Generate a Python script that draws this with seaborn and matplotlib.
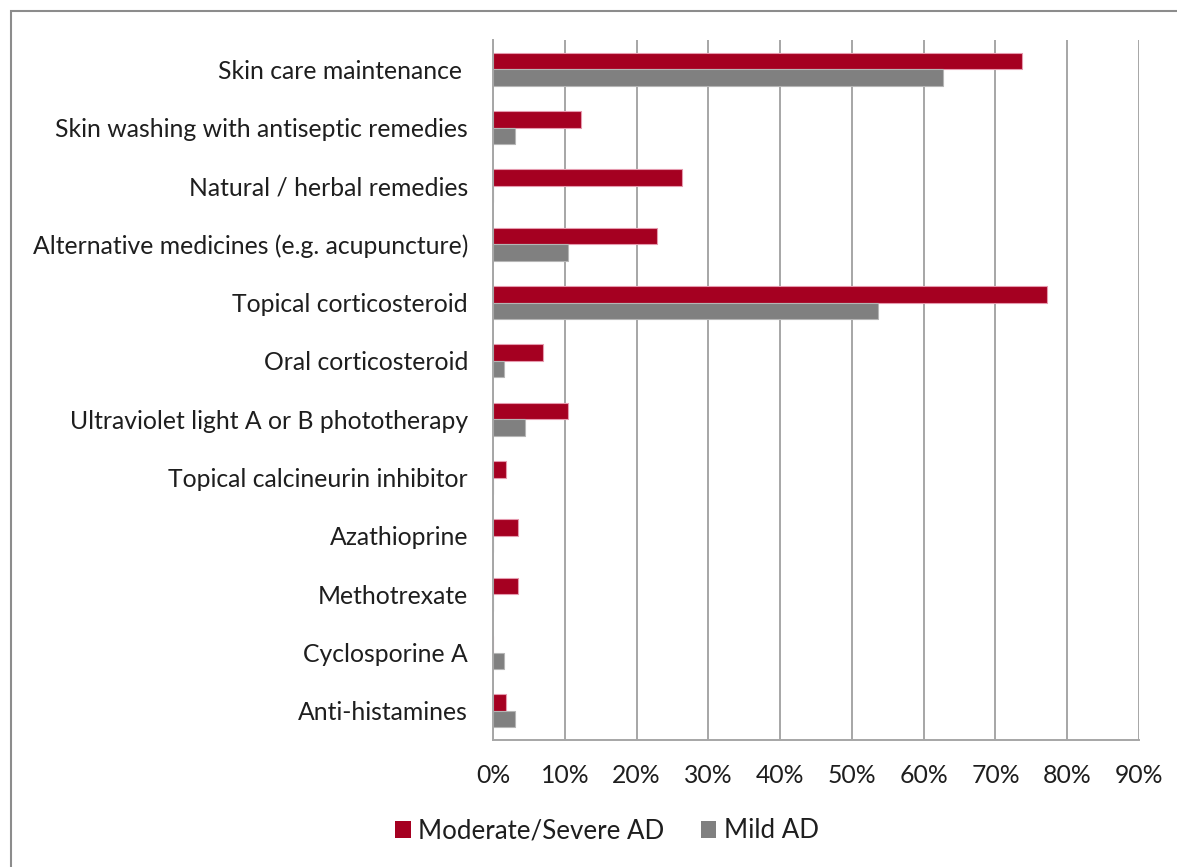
import pandas as pd
import matplotlib
matplotlib.use('Agg')
import matplotlib.pyplot as plt
import seaborn as sns
from matplotlib.patches import Rectangle

# values (percent of patients)
treatments = ['Skin care maintenance ', 'Skin washing with antiseptic remedies', 'Natural / herbal remedies',
              'Alternative medicines (e.g. acupuncture)', 'Topical corticosteroid', 'Oral corticosteroid',
              'Ultraviolet light A or B phototherapy', 'Topical calcineurin inhibitor', 'Azathioprine',
              'Methotrexate', 'Cyclosporine A', 'Anti-histamines']
moderate_severe = [73.7, 12.3, 26.3, 22.8, 77.2, 7.0, 10.5, 1.8, 3.5, 3.5, 0.0, 1.8]
mild = [62.7, 3.0, 0.0, 10.4, 53.7, 1.5, 4.5, 0.0, 0.0, 0.0, 1.5, 3.0]
groups = ['Moderate/Severe AD', 'Mild AD']
x_ticks = [0, 10, 20, 30, 40, 50, 60, 70, 80, 90]
x_labels = ['0%', '10%', '20%', '30%', '40%', '50%', '60%', '70%', '80%', '90%']

df = pd.DataFrame({
    'Treatment': treatments * 2,
    'Percent': moderate_severe + mild,
    'Group': [groups[0]] * len(treatments) + [groups[1]] * len(treatments),
})

sns.set_style('white')
plt.rcParams['font.family'] = ['Lato', 'DejaVu Sans']
text_col = '#1E1E1E'
grid_col = '#A6A6A6'
palette = {'Moderate/Severe AD': '#A50021', 'Mild AD': '#808080'}
fs = 17.8

fig = plt.figure(figsize=(11.77, 8.67), dpi=100)
ax = fig.add_axes([493 / 1177, 1 - 740 / 867, (1139 - 493) / 1177, (740 - 40) / 867])

sns.barplot(data=df, y='Treatment', x='Percent', hue='Group', order=treatments, hue_order=groups,
            palette=palette, width=0.57, orient='h', ax=ax, legend=True, saturation=1)

edge_cols = ['#E59AAE', '#B5B5B5']
for cont, ec in zip(ax.containers, edge_cols):
    for bar in cont:
        bar.set_edgecolor(ec)
        bar.set_linewidth(0.8)

ax.set_xlim(0, 90)
ax.set_ylim(len(treatments) - 0.5, -0.5)
ax.set_xticks(x_ticks)
ax.set_xticklabels(x_labels)
ax.set_xlabel('')
ax.set_ylabel('')
ax.grid(axis='x', color=grid_col, linewidth=1.4)
ax.set_axisbelow(True)

for side in ['top', 'right']:
    ax.spines[side].set_visible(False)
for side in ['left', 'bottom']:
    ax.spines[side].set_color(grid_col)
    ax.spines[side].set_linewidth(1.4)

ax.tick_params(axis='x', which='major', direction='out', length=6, width=1.4, color=grid_col,
               labelsize=fs, labelcolor=text_col, pad=11)
ax.set_yticks([i - 0.5 for i in range(len(treatments) + 1)], minor=True)
ax.tick_params(axis='y', which='minor', direction='out', length=5.5, width=1.4, color=grid_col)
ax.tick_params(axis='y', which='major', length=0, labelsize=fs, labelcolor=text_col, pad=18)

leg = ax.legend(loc='center', bbox_to_anchor=(607 / 1177, 1 - 831 / 867), bbox_transform=fig.transFigure,
                ncol=2, frameon=False, fontsize=fs + 0.8, handlelength=0.6, handleheight=0.6,
                handletextpad=0.3, columnspacing=1.4, labelcolor=text_col)
for h in leg.legend_handles:
    h.set_edgecolor('none')

fig.patches.append(Rectangle((11 / 1177, -0.2), 1.2, 1 - 11 / 867 + 0.2, transform=fig.transFigure,
                             fill=False, edgecolor='#8C8C8C', linewidth=1.5, figure=fig))

fig.savefig('out.png', dpi=100, facecolor='white')
